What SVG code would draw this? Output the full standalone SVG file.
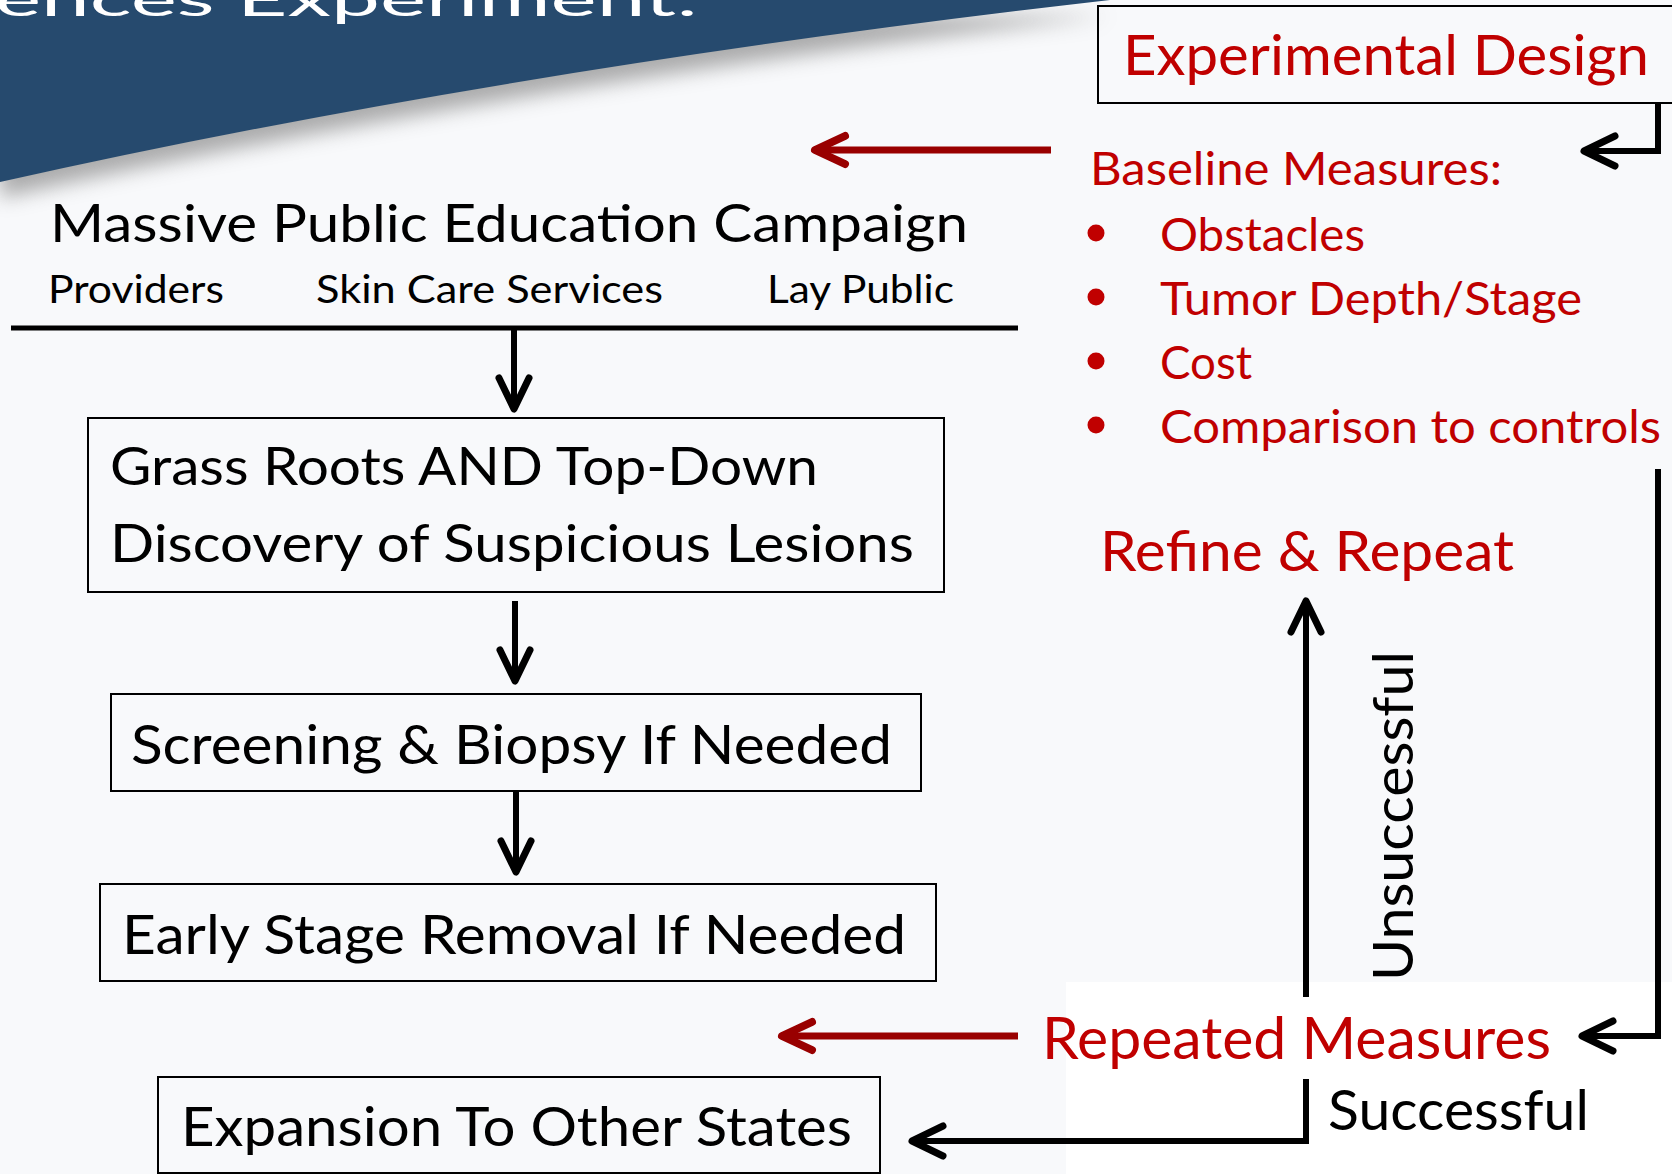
<svg xmlns="http://www.w3.org/2000/svg" width="1672" height="1174" viewBox="0 0 1672 1174">
  <defs>
    <filter id="blur" x="-10%" y="-50%" width="120%" height="200%">
      <feGaussianBlur stdDeviation="10"/>
    </filter>
    <marker id="ab" markerUnits="userSpaceOnUse" orient="auto" overflow="visible" refX="0" refY="0" markerWidth="1" markerHeight="1">
      <path d="M-31,-15 L0,0 L-31,15" fill="none" stroke="#000" stroke-width="7" stroke-linecap="round" stroke-linejoin="round"/>
    </marker>
    <marker id="ar" markerUnits="userSpaceOnUse" orient="auto" overflow="visible" refX="0" refY="0" markerWidth="1" markerHeight="1">
      <path d="M-30,-14 L0,0 L-30,14" fill="none" stroke="#990000" stroke-width="8" stroke-linecap="round" stroke-linejoin="round"/>
    </marker>
  </defs>
  <style>
    text { font-family: Lato, "Open Sans", "Liberation Sans", sans-serif; }
    .red { fill: #C00000; }
    .blk { fill: #000000; }
    .box { fill: none; stroke: #000; stroke-width: 2; }
    .cb { fill: none; stroke: #000; stroke-width: 6; stroke-linejoin: miter; marker-end: url(#ab); }
    .cr { fill: none; stroke: #990000; stroke-width: 7; marker-end: url(#ar); }
  </style>

  <!-- background -->
  <rect x="0" y="0" width="1672" height="1174" fill="#F8F9FB"/>
  <path d="M0,0 H1110 Q500,70 0,182 Z" fill="#8a8a8a" opacity="0.7" transform="translate(0,16)" filter="url(#blur)"/>
  <path d="M0,0 H1110 Q500,70 0,182 Z" fill="#264A6E"/>
  <text x="-5" y="16" font-size="46" fill="#FFFFFF" textLength="703" lengthAdjust="spacingAndGlyphs">ences Experiment:</text>
  <rect x="1066" y="982" width="606" height="192" fill="#FFFFFF"/>

  <g id="experimental-design">
    <rect class="box" x="1098" y="6" width="620" height="97"/>
    <text class="red" x="1123" y="75" font-size="56" textLength="526" lengthAdjust="spacingAndGlyphs">Experimental Design</text>
  </g>

  <g id="baseline-measures">
    <text class="red" x="1090" y="185" font-size="46" textLength="412" lengthAdjust="spacingAndGlyphs">Baseline Measures:</text>
    <circle cx="1096" cy="233" r="8.5" fill="#C00000"/>
    <circle cx="1096" cy="297" r="8.5" fill="#C00000"/>
    <circle cx="1096" cy="361" r="8.5" fill="#C00000"/>
    <circle cx="1096" cy="425" r="8.5" fill="#C00000"/>
    <text class="red" x="1160" y="251" font-size="46" textLength="205" lengthAdjust="spacingAndGlyphs">Obstacles</text>
    <text class="red" x="1160" y="315" font-size="46" textLength="422" lengthAdjust="spacingAndGlyphs">Tumor Depth/Stage</text>
    <text class="red" x="1160" y="379" font-size="46" textLength="92" lengthAdjust="spacingAndGlyphs">Cost</text>
    <text class="red" x="1160" y="443" font-size="46" textLength="501" lengthAdjust="spacingAndGlyphs">Comparison to controls</text>
  </g>

  <g id="refine-repeat">
    <text class="red" x="1100" y="571" font-size="56" textLength="414" lengthAdjust="spacingAndGlyphs">Refine &amp; Repeat</text>
  </g>

  <g id="repeated-measures">
    <text class="red" x="1042" y="1059" font-size="58" textLength="509" lengthAdjust="spacingAndGlyphs">Repeated Measures</text>
  </g>

  <g id="campaign">
    <text class="blk" x="50" y="242" font-size="52" textLength="918" lengthAdjust="spacingAndGlyphs">Massive Public Education Campaign</text>
    <text class="blk" x="48" y="303" font-size="39" textLength="176" lengthAdjust="spacingAndGlyphs">Providers</text>
    <text class="blk" x="316" y="303" font-size="39" textLength="347" lengthAdjust="spacingAndGlyphs">Skin Care Services</text>
    <text class="blk" x="767" y="303" font-size="39" textLength="187" lengthAdjust="spacingAndGlyphs">Lay Public</text>
    <line x1="11" y1="328" x2="1018" y2="328" stroke="#000" stroke-width="5"/>
  </g>

  <g id="discovery">
    <rect class="box" x="88" y="418" width="856" height="174"/>
    <text class="blk" x="110" y="485" font-size="53" textLength="708" lengthAdjust="spacingAndGlyphs">Grass Roots AND Top-Down</text>
    <text class="blk" x="110" y="562" font-size="53" textLength="804" lengthAdjust="spacingAndGlyphs">Discovery of Suspicious Lesions</text>
  </g>

  <g id="screening">
    <rect class="box" x="111" y="694" width="810" height="97"/>
    <text class="blk" x="131" y="764" font-size="55" textLength="761" lengthAdjust="spacingAndGlyphs">Screening &amp; Biopsy If Needed</text>
  </g>

  <g id="removal">
    <rect class="box" x="100" y="884" width="836" height="97"/>
    <text class="blk" x="122" y="954" font-size="55" textLength="784" lengthAdjust="spacingAndGlyphs">Early Stage Removal If Needed</text>
  </g>

  <g id="expansion">
    <rect class="box" x="158" y="1077" width="722" height="96"/>
    <text class="blk" x="181" y="1146" font-size="55" textLength="671" lengthAdjust="spacingAndGlyphs">Expansion To Other States</text>
  </g>

  <g id="connectors">
    <path class="cb" d="M514,330 V409"/>
    <path class="cb" d="M515,601 V681"/>
    <path class="cb" d="M516,792 V872"/>
    <path class="cb" d="M1658,103 V151 H1584"/>
    <path class="cr" d="M1051,150 H815"/>
    <path class="cb" d="M1658,469 V1036 H1582"/>
    <path class="cr" d="M1018,1036 H782"/>
    <path class="cb" stroke-width="7" d="M1306,997 V601"/>
    <path class="cb" d="M1306,1079 V1141 H912"/>
    <text class="blk" transform="translate(1413,981) rotate(-90)" x="0" y="0" font-size="57" textLength="330" lengthAdjust="spacingAndGlyphs">Unsuccessful</text>
    <text class="blk" x="1328" y="1130" font-size="56" textLength="261" lengthAdjust="spacingAndGlyphs">Successful</text>
  </g>
</svg>
